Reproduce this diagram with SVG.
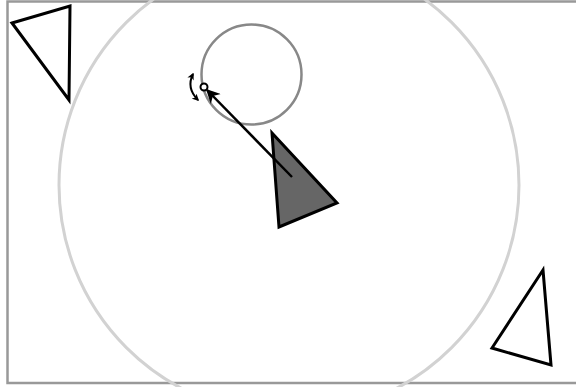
<svg xmlns="http://www.w3.org/2000/svg" width="576" height="387" viewBox="0 0 576 387">
<defs>
<marker id="ah" viewBox="0 0 10 10" refX="8" refY="5" markerWidth="7" markerHeight="7" orient="auto-start-reverse" markerUnits="userSpaceOnUse">
<path d="M0,0 L10,5 L0,10 L3,5 Z" fill="#000"/>
</marker>
<marker id="big" viewBox="0 0 10 10" refX="9" refY="5" markerWidth="16" markerHeight="14" orient="auto" markerUnits="userSpaceOnUse">
<path d="M0,0 L10,5 L0,10 L3,5 Z" fill="#000"/>
</marker>
</defs>
<style>
.tri{stroke:#000;stroke-width:3;stroke-linejoin:miter;fill:#fff}
.gray{fill:none;stroke:#d2d2d2;stroke-width:3}
</style>
<rect x="0" y="0" width="576" height="387" fill="#fff"/>
<rect x="7.5" y="1.5" width="570" height="381.5" fill="none" stroke="#999" stroke-width="2.5"/>
<g id="orbit-large"><circle cx="289" cy="185" r="230" class="gray"/></g>
<g id="orbit-small"><circle cx="251.5" cy="74.5" r="50" fill="none" stroke="#888" stroke-width="2.5"/></g>
<g id="tri-topleft"><polygon class="tri" points="12,23 70,6 69,100"/></g>
<g id="tri-bottomright"><polygon class="tri" points="543,270 492,348 551,365"/></g>
<g id="tri-center"><polygon class="tri" style="fill:#666" points="272,133 337,203 279,227"/></g>
<g id="connectors">
<line x1="292" y1="177" x2="207" y2="90" stroke="#000" stroke-width="2.5" marker-end="url(#big)"/>
<path d="M193,74 Q186,88 198,100" fill="none" stroke="#000" stroke-width="2" marker-start="url(#ah)" marker-end="url(#ah)"/>
</g>
<g id="marker"><circle cx="204" cy="87" r="3.5" fill="#fff" stroke="#000" stroke-width="2"/></g>
</svg>
